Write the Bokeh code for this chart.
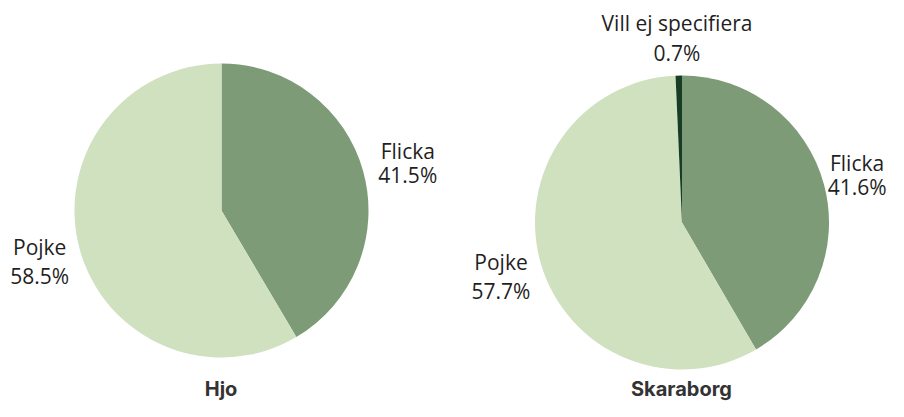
import math
from bokeh.plotting import figure
from bokeh.models import Range1d, ColumnDataSource
from bokeh.core.properties import value
from bokeh.embed import file_html
from bokeh.resources import INLINE

# ---- data ----
regions = ["Hjo", "Skaraborg"]
categories = ["Flicka", "Pojke", "Vill ej specifiera"]
hjo_values = [41.5, 58.5, 0.0]
skaraborg_values = [41.6, 57.7, 0.7]
colors = ["#7c9b76", "#cfe1bf", "#173d26"]

W, H = 888, 401
p = figure(width=W, height=H, output_backend="svg", toolbar_location=None,
           x_range=Range1d(0, W), y_range=Range1d(0, H), min_border=0,
           tools="")
p.axis.visible = False
p.grid.visible = False
p.outline_line_color = None
p.background_fill_color = "white"

FS = 21
ADV = {'0': 572, '1': 572, '2': 572, '3': 572, '4': 572, '5': 572, '6': 572,
       '7': 572, '8': 572, '9': 572, '.': 266, '%': 820, 'F': 535, 'l': 240,
       'i': 240, 'c': 504, 'k': 513, 'a': 556, 'P': 586, 'o': 594, 'j': 240,
       'e': 561, ' ': 260}


def tw(s):
    return sum(ADV.get(ch, 550) for ch in s) / 1000 * FS


def img_y(yv):
    return H - yv


centers = [(221, img_y(210)), (681.5, img_y(222))]
R = 147
LIFT = 8
series = [hjo_values, skaraborg_values]

for (cx, cy), vals, region in zip(centers, series, regions):
    total = sum(vals)
    start = math.pi / 2
    xs, ys, st, en, cols = [], [], [], [], []
    lab_rows = []
    for cat, v, c in zip(categories, vals, colors):
        if v <= 0:
            continue
        sweep = v / total * 2 * math.pi
        end = start - sweep
        xs.append(cx); ys.append(cy)
        st.append(end); en.append(start); cols.append(c)
        lab_rows.append((cat, v, (start + end) / 2))
        start = end
    src = ColumnDataSource(dict(x=xs, y=ys, start=st, end=en, color=cols))
    p.wedge(x="x", y="y", radius=R, start_angle="start", end_angle="end",
            fill_color="color", line_color=None, source=src)

    for cat, v, mid in lab_rows:
        pct = f"{v:.1f}%"
        ca, sa = math.cos(mid), math.sin(mid)
        ax = cx + (R + 12) * ca
        ay = cy + (R + 12) * sa + LIFT   # figure coords (y up)
        maxw = max(tw(cat), tw(pct))
        if abs(ca) < 0.2:                 # label above
            tx = ax - 1.5
            y_pct = ay + 3
            y_name = y_pct + 30
        elif ca > 0:                      # label on the right
            tx = ax + 3.5 + maxw / 2
            tx = min(tx, W - 2 - maxw / 2)
            y_name = ay + 10
            y_pct = ay - 14
        else:                             # label on the left
            tx = ax + 1 - maxw / 2
            y_name = ay - 3
            y_pct = ay - 32
        p.text(x=[tx, tx], y=[y_name, y_pct], text=[cat, pct],
               text_align="center", text_baseline="alphabetic",
               text_font=value("Open Sans"), text_font_size=f"{FS}px",
               text_color="#1f1f1f")

    p.text(x=[cx - 0.5], y=[1], text=[region], text_align="center",
           text_baseline="bottom", text_font=value("Inter"),
           text_font_style="bold", text_font_size="20px", text_color="#333333")

open("out.html", "w").write(file_html(p, INLINE))
